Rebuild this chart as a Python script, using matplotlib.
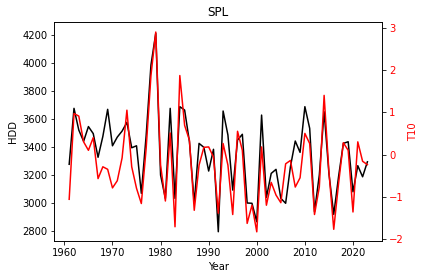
import numpy as np
import matplotlib.pyplot as plt

years = np.arange(1961, 2024)

hdd = [3276, 3675, 3520, 3440, 3545, 3495, 3326, 3475, 3668, 3408,
       3470, 3513, 3575, 3394, 3408, 3069, 3480, 3984, 4210, 3199,
       3033, 3675, 3033, 3687, 3663, 3437, 3000, 3425, 3397, 3228,
       3383, 2795, 3656, 3485, 3092, 3449, 3490, 3000, 2998, 2866,
       3627, 3040, 3211, 3240, 3033, 2998, 3260, 3442, 3361, 3687,
       3532, 2938, 3199, 3651, 3210, 2919, 3187, 3425, 3437, 3080,
       3266, 3187, 3294]

t10 = [-1.06, 0.97, 0.91, 0.30, 0.10, 0.40, -0.57, -0.29, -0.35, -0.79,
       -0.62, -0.08, 1.05, -0.29, -0.80, -1.16, 0.14, 1.87, 2.90, -0.25,
       -1.10, 0.51, -1.71, 1.87, 0.69, 0.34, -1.32, -0.25, 0.17, 0.18,
       -0.06, -1.39, 0.26, -0.25, -1.42, 0.55, 0.10, -1.63, -1.20, -1.83,
       0.18, -1.20, -0.66, -0.96, -1.14, -0.22, -0.14, -0.77, -0.55, 0.50,
       0.26, -1.42, -0.77, 1.40, -0.41, -1.77, -0.69, 0.28, 0.10, -1.36,
       0.30, -0.16, -0.24]

plt.rcParams['font.size'] = 10

fig = plt.figure(figsize=(424 / 72, 280 / 72), dpi=72)
ax = fig.add_axes([0.128, 0.1393, 0.7737, 0.7807])
ax.plot(years, hdd, color='black', lw=1.5)
ax.set_ylim(2729, 4288)
ax.set_xlim(1957.9, 2026.1)
ax.set_xlabel('Year')
ax.set_ylabel('HDD')
ax.set_title('SPL')

ax2 = ax.twinx()
ax2.plot(years, t10, color='red', lw=1.5)
ax2.set_ylim(-2.047, 3.128)
ax2.set_ylabel('T10', color='red')
ax2.tick_params(axis='y', labelcolor='red')

fig.savefig('out.png', dpi=72)
